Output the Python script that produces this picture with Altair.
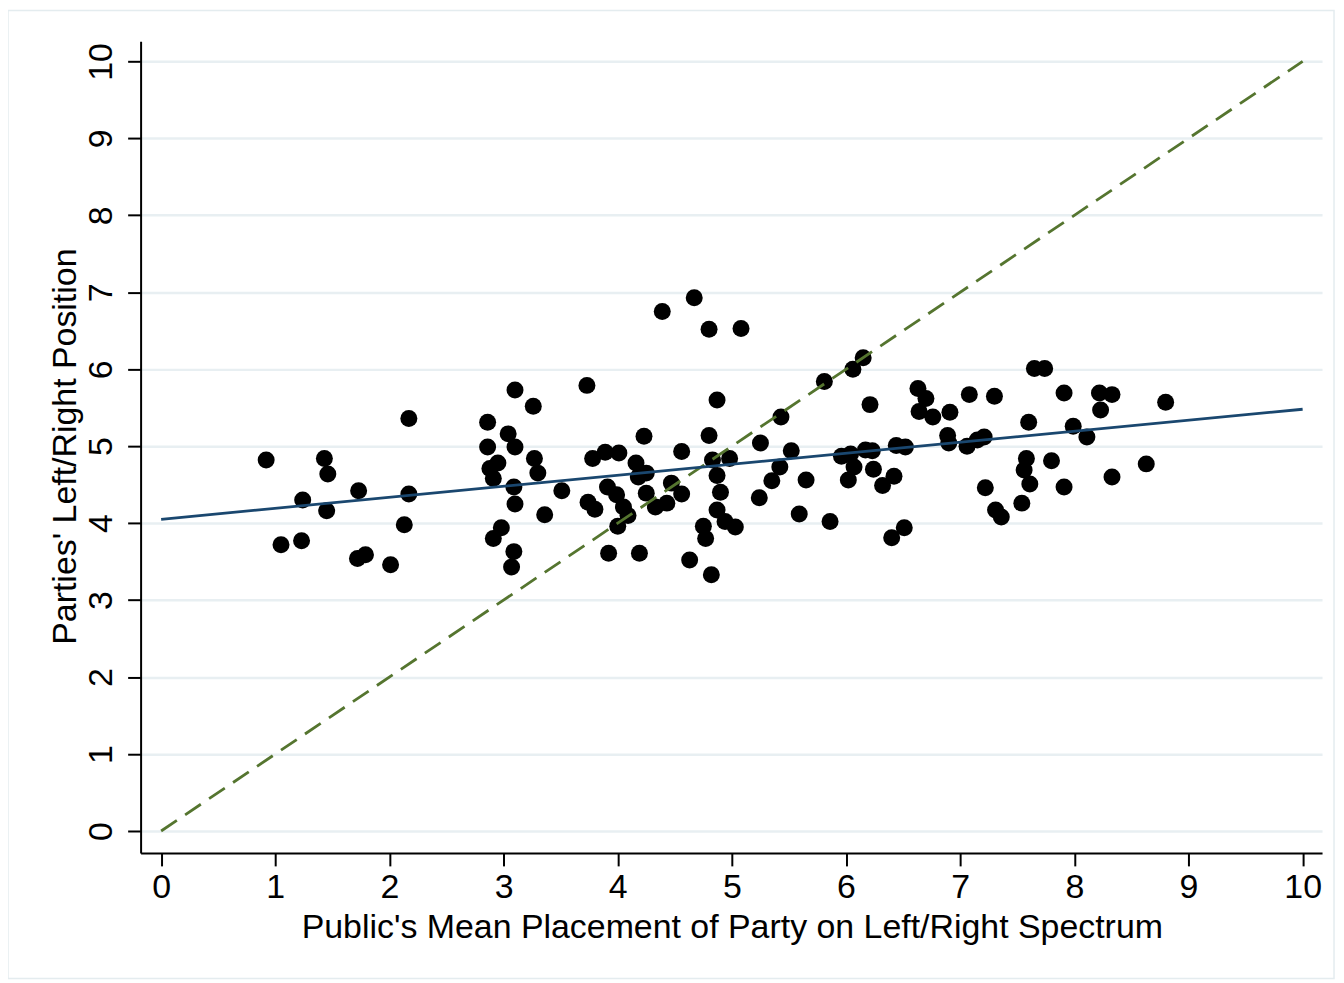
import altair as alt
import pandas as pd

# Public's mean placement (x) and party position (y)
public_mean = [
    0.92, 1.05, 1.24, 1.23, 1.43, 1.46, 1.45, 1.73, 1.72, 1.79, 2.01, 2.17, 2.17, 2.13,
    3.10, 3.26, 2.86, 3.04, 3.10, 2.86, 3.27, 3.30, 2.95, 2.88, 2.91, 3.09, 3.51, 3.10,
    3.36, 2.98, 2.91, 3.09, 3.07,
    3.73, 3.78, 3.89, 4.01, 4.23, 4.16, 4.18, 4.25, 3.91, 3.99, 4.25, 3.74, 3.80, 4.05,
    4.09, 4.00, 3.92, 4.19,
    4.39, 4.67, 4.80, 5.08, 4.87, 4.80, 4.56, 4.83, 4.98, 4.87, 4.47, 4.56, 4.90, 4.33,
    4.43, 4.87, 4.94, 5.03, 4.75, 4.77, 4.63, 4.82,
    6.15, 6.06, 5.81, 5.43, 5.25, 5.52, 5.42, 5.35, 5.65, 5.24, 5.59, 5.86, 5.96, 6.04,
    6.07, 6.02, 6.17, 6.23, 6.24, 6.32, 6.42, 6.44, 6.52, 6.63, 6.70, 6.64, 6.76, 6.40,
    6.51, 6.21,
    7.65, 7.74, 7.08, 7.30, 6.91, 7.91, 8.22, 8.33, 8.23, 8.80, 7.60, 7.99, 8.11, 6.89,
    6.90, 7.06, 7.15, 7.21, 7.58, 7.56, 7.61, 7.80, 7.22, 7.91, 8.33, 8.63, 7.54, 7.31,
    7.36,
]
party_position = [
    4.82, 3.72, 4.30, 3.77, 4.84, 4.64, 4.16, 4.42, 3.54, 3.59, 3.46, 5.36, 4.38, 3.98,
    5.73, 5.52, 5.31, 5.16, 4.99, 4.99, 4.84, 4.65, 4.78, 4.71, 4.58, 4.47, 4.42, 4.25,
    4.11, 3.94, 3.80, 3.63, 3.43,
    5.79, 4.84, 4.92, 4.91, 5.13, 4.78, 4.60, 4.65, 4.47, 4.37, 4.39, 4.27, 4.18, 4.21,
    4.10, 3.96, 3.61, 3.61,
    6.75, 6.93, 6.52, 6.53, 5.60, 5.14, 4.93, 4.82, 4.84, 4.62, 4.52, 4.38, 4.40, 4.21,
    4.26, 4.17, 4.02, 3.95, 3.96, 3.80, 3.52, 3.33,
    6.15, 6.00, 5.84, 5.38, 5.04, 4.94, 4.73, 4.55, 4.56, 4.33, 4.12, 4.02, 4.87, 4.90,
    4.73, 4.56, 4.95, 4.94, 4.70, 4.49, 4.61, 5.01, 4.99, 5.75, 5.62, 5.45, 5.38, 3.81,
    3.94, 5.54,
    6.01, 6.01, 5.67, 5.65, 5.44, 5.69, 5.69, 5.67, 5.47, 5.57, 5.31, 5.26, 5.12, 5.14,
    5.04, 5.00, 5.08, 5.12, 4.84, 4.69, 4.51, 4.81, 4.46, 4.47, 4.60, 4.77, 4.26, 4.17,
    4.08,
]

# Fitted line end points
fit_x = [0, 10]
fit_y = [4.05, 5.48]

# 45-degree reference line
diag_x = [0, 10]
diag_y = [0, 10]

ticks = list(range(0, 11))

pts = pd.DataFrame({"x": public_mean, "y": party_position})
fit = pd.DataFrame({"x": fit_x, "y": fit_y})
diag = pd.DataFrame({"x": diag_x, "y": diag_y})
frame = pd.DataFrame({"k": [0]})

FONT = "Liberation Sans"
W, H = 1185, 814

xscale = alt.Scale(domain=[-0.18, 10.17], nice=False, zero=False)
yscale = alt.Scale(domain=[-0.285, 10.26], nice=False, zero=False)

xaxis = alt.Axis(
    values=ticks, format="d", grid=False, tickSize=13, tickWidth=2, tickColor="black",
    domainColor="black", domainWidth=2, labelFont=FONT, labelFontSize=34,
    labelColor="black", labelPadding=5, labelFlush=False,
    title="Public's Mean Placement of Party on Left/Right Spectrum",
    titleFont=FONT, titleFontSize=34, titleFontWeight="normal", titleColor="black",
    titleX=593, titleY=85, titleBaseline="alphabetic", titleAlign="center",
)
yaxis = alt.Axis(
    values=ticks, format="d", grid=True, gridColor="#e8eff2", gridWidth=2.5,
    tickSize=13, tickWidth=2, tickColor="black",
    domainColor="black", domainWidth=2, labelFont=FONT, labelFontSize=34,
    labelColor="black", labelPadding=16, labelAngle=270, labelAlign="center",
    labelBaseline="alphabetic", labelFlush=False,
    title="Parties' Left/Right Position",
    titleFont=FONT, titleFontSize=34, titleFontWeight="normal", titleColor="black",
    titleX=-65, titleY=406, titleAngle=270, titleBaseline="alphabetic", titleAlign="center",
)

border = alt.Chart(frame).mark_rect(
    fill="transparent", stroke="#e4ecef", strokeWidth=1.5
).encode(
    x=alt.value(-133), x2=alt.value(1197), y=alt.value(-31), y2=alt.value(940)
)

points = alt.Chart(pts).mark_circle(size=290, color="black", opacity=1).encode(
    x=alt.X("x:Q", scale=xscale, axis=xaxis),
    y=alt.Y("y:Q", scale=yscale, axis=yaxis),
)

diag_line = alt.Chart(diag).mark_line(
    color="#55752f", strokeWidth=2.8, strokeDash=[19, 10]
).encode(x=alt.X("x:Q", scale=xscale), y=alt.Y("y:Q", scale=yscale))

fit_line = alt.Chart(fit).mark_line(color="#1a476f", strokeWidth=2.8).encode(
    x=alt.X("x:Q", scale=xscale), y=alt.Y("y:Q", scale=yscale)
)

chart = alt.layer(border, points, diag_line, fit_line).properties(
    width=W, height=H,
    autosize=alt.AutoSizeParams(type="none"),
    padding={"left": 133, "top": 32, "right": 14, "bottom": 128},
    background="white",
).configure_view(strokeWidth=0)

chart.save("out.html", embed_options={"renderer": "svg", "actions": False})
